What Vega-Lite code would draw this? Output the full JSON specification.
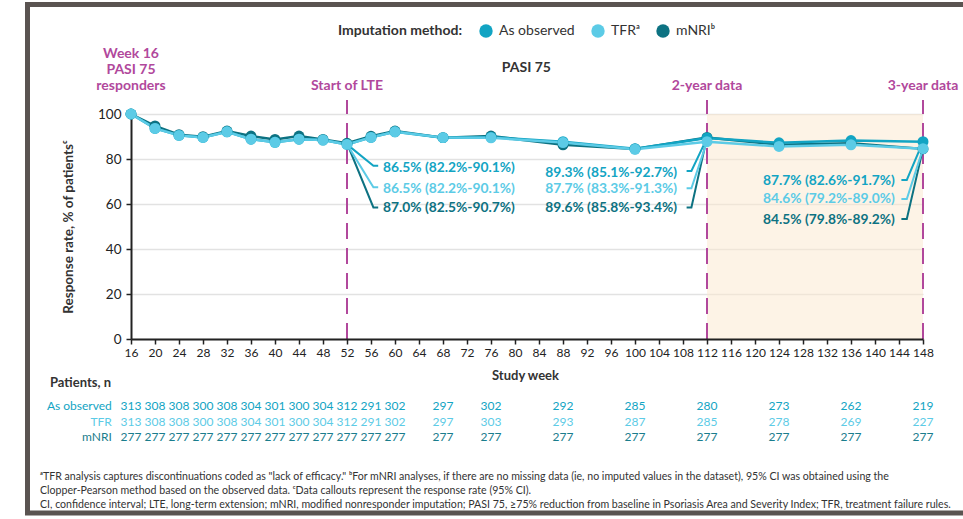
{
  "$schema": "https://vega.github.io/schema/vega-lite/v6.json",
  "width": 792,
  "height": 225,
  "autosize": {"type": "none"},
  "padding": {"left": 131, "top": 114, "right": 40, "bottom": 180},
  "background": "white",
  "config": {"font": "Lato", "view": {"stroke": null}, "text": {"font": "Lato"}},
  "resolve": {"axis": {"x": "independent", "y": "independent"}, "legend": {"color": "independent"}},
  "datasets": {
    "rates": [
      {"week": 16, "method": "mNRI", "rate": 100}, {"week": 20, "method": "mNRI", "rate": 94.7}, {"week": 24, "method": "mNRI", "rate": 90.8}, {"week": 28, "method": "mNRI", "rate": 89.9}, {"week": 32, "method": "mNRI", "rate": 92.4}, {"week": 36, "method": "mNRI", "rate": 90.2}, {"week": 40, "method": "mNRI", "rate": 88.7}, {"week": 44, "method": "mNRI", "rate": 90.2}, {"week": 48, "method": "mNRI", "rate": 88.7}, {"week": 52, "method": "mNRI", "rate": 87.0}, {"week": 56, "method": "mNRI", "rate": 90.1}, {"week": 60, "method": "mNRI", "rate": 92.4}, {"week": 68, "method": "mNRI", "rate": 89.5}, {"week": 76, "method": "mNRI", "rate": 90.2}, {"week": 88, "method": "mNRI", "rate": 86.3}, {"week": 100, "method": "mNRI", "rate": 84.5}, {"week": 112, "method": "mNRI", "rate": 89.6}, {"week": 124, "method": "mNRI", "rate": 86.3}, {"week": 136, "method": "mNRI", "rate": 87.0}, {"week": 148, "method": "mNRI", "rate": 84.5},
      {"week": 16, "method": "As observed", "rate": 100}, {"week": 20, "method": "As observed", "rate": 93.6}, {"week": 24, "method": "As observed", "rate": 90.5}, {"week": 28, "method": "As observed", "rate": 89.6}, {"week": 32, "method": "As observed", "rate": 92.1}, {"week": 36, "method": "As observed", "rate": 88.8}, {"week": 40, "method": "As observed", "rate": 87.4}, {"week": 44, "method": "As observed", "rate": 88.8}, {"week": 48, "method": "As observed", "rate": 88.4}, {"week": 52, "method": "As observed", "rate": 86.5}, {"week": 56, "method": "As observed", "rate": 89.6}, {"week": 60, "method": "As observed", "rate": 92.1}, {"week": 68, "method": "As observed", "rate": 89.5}, {"week": 76, "method": "As observed", "rate": 89.7}, {"week": 88, "method": "As observed", "rate": 87.7}, {"week": 100, "method": "As observed", "rate": 84.6}, {"week": 112, "method": "As observed", "rate": 89.3}, {"week": 124, "method": "As observed", "rate": 87.2}, {"week": 136, "method": "As observed", "rate": 88.2}, {"week": 148, "method": "As observed", "rate": 87.7},
      {"week": 16, "method": "TFR", "rate": 100}, {"week": 20, "method": "TFR", "rate": 93.6}, {"week": 24, "method": "TFR", "rate": 90.5}, {"week": 28, "method": "TFR", "rate": 89.6}, {"week": 32, "method": "TFR", "rate": 92.1}, {"week": 36, "method": "TFR", "rate": 88.8}, {"week": 40, "method": "TFR", "rate": 87.4}, {"week": 44, "method": "TFR", "rate": 88.8}, {"week": 48, "method": "TFR", "rate": 88.4}, {"week": 52, "method": "TFR", "rate": 86.5}, {"week": 56, "method": "TFR", "rate": 89.6}, {"week": 60, "method": "TFR", "rate": 92.1}, {"week": 68, "method": "TFR", "rate": 89.5}, {"week": 76, "method": "TFR", "rate": 89.4}, {"week": 88, "method": "TFR", "rate": 87.3}, {"week": 100, "method": "TFR", "rate": 84.3}, {"week": 112, "method": "TFR", "rate": 87.7}, {"week": 124, "method": "TFR", "rate": 85.6}, {"week": 136, "method": "TFR", "rate": 86.3}, {"week": 148, "method": "TFR", "rate": 84.6}
    ],
    "patients": [
      {"week": 16, "method": "As observed", "n": 313}, {"week": 20, "method": "As observed", "n": 308}, {"week": 24, "method": "As observed", "n": 308}, {"week": 28, "method": "As observed", "n": 300}, {"week": 32, "method": "As observed", "n": 308}, {"week": 36, "method": "As observed", "n": 304}, {"week": 40, "method": "As observed", "n": 301}, {"week": 44, "method": "As observed", "n": 300}, {"week": 48, "method": "As observed", "n": 304}, {"week": 52, "method": "As observed", "n": 312}, {"week": 56, "method": "As observed", "n": 291}, {"week": 60, "method": "As observed", "n": 302}, {"week": 68, "method": "As observed", "n": 297}, {"week": 76, "method": "As observed", "n": 302}, {"week": 88, "method": "As observed", "n": 292}, {"week": 100, "method": "As observed", "n": 285}, {"week": 112, "method": "As observed", "n": 280}, {"week": 124, "method": "As observed", "n": 273}, {"week": 136, "method": "As observed", "n": 262}, {"week": 148, "method": "As observed", "n": 219},
      {"week": 16, "method": "TFR", "n": 313}, {"week": 20, "method": "TFR", "n": 308}, {"week": 24, "method": "TFR", "n": 308}, {"week": 28, "method": "TFR", "n": 300}, {"week": 32, "method": "TFR", "n": 308}, {"week": 36, "method": "TFR", "n": 304}, {"week": 40, "method": "TFR", "n": 301}, {"week": 44, "method": "TFR", "n": 300}, {"week": 48, "method": "TFR", "n": 304}, {"week": 52, "method": "TFR", "n": 312}, {"week": 56, "method": "TFR", "n": 291}, {"week": 60, "method": "TFR", "n": 302}, {"week": 68, "method": "TFR", "n": 297}, {"week": 76, "method": "TFR", "n": 303}, {"week": 88, "method": "TFR", "n": 293}, {"week": 100, "method": "TFR", "n": 287}, {"week": 112, "method": "TFR", "n": 285}, {"week": 124, "method": "TFR", "n": 278}, {"week": 136, "method": "TFR", "n": 269}, {"week": 148, "method": "TFR", "n": 227},
      {"week": 16, "method": "mNRI", "n": 277}, {"week": 20, "method": "mNRI", "n": 277}, {"week": 24, "method": "mNRI", "n": 277}, {"week": 28, "method": "mNRI", "n": 277}, {"week": 32, "method": "mNRI", "n": 277}, {"week": 36, "method": "mNRI", "n": 277}, {"week": 40, "method": "mNRI", "n": 277}, {"week": 44, "method": "mNRI", "n": 277}, {"week": 48, "method": "mNRI", "n": 277}, {"week": 52, "method": "mNRI", "n": 277}, {"week": 56, "method": "mNRI", "n": 277}, {"week": 60, "method": "mNRI", "n": 277}, {"week": 68, "method": "mNRI", "n": 277}, {"week": 76, "method": "mNRI", "n": 277}, {"week": 88, "method": "mNRI", "n": 277}, {"week": 100, "method": "mNRI", "n": 277}, {"week": 112, "method": "mNRI", "n": 277}, {"week": 124, "method": "mNRI", "n": 277}, {"week": 136, "method": "mNRI", "n": 277}, {"week": 148, "method": "mNRI", "n": 277}
    ],
    "callouts": [
      {"group": 52, "method": "As observed", "week": 58.0, "rate": 76.0, "label": "86.5% (82.2%-90.1%)"},
      {"group": 52, "method": "TFR", "week": 58.0, "rate": 66.7, "label": "86.5% (82.2%-90.1%)"},
      {"group": 52, "method": "mNRI", "week": 58.0, "rate": 58.4, "label": "87.0% (82.5%-90.7%)"},
      {"group": 112, "method": "As observed", "week": 107.0, "rate": 73.8, "label": "89.3% (85.1%-92.7%)"},
      {"group": 112, "method": "TFR", "week": 107.0, "rate": 66.5, "label": "87.7% (83.3%-91.3%)"},
      {"group": 112, "method": "mNRI", "week": 107.0, "rate": 58.4, "label": "89.6% (85.8%-93.4%)"},
      {"group": 148, "method": "As observed", "week": 143.3, "rate": 70.2, "label": "87.7% (82.6%-91.7%)"},
      {"group": 148, "method": "TFR", "week": 143.3, "rate": 62.2, "label": "84.6% (79.2%-89.0%)"},
      {"group": 148, "method": "mNRI", "week": 143.3, "rate": 52.9, "label": "84.5% (79.8%-89.2%)"}
    ],
    "leaders": [
      {"group": 52, "method": "mNRI", "step": 1, "week": 52, "rate": 87.0}, {"group": 52, "method": "mNRI", "step": 2, "week": 56.4, "rate": 58.5}, {"group": 52, "method": "mNRI", "step": 3, "week": 57.2, "rate": 58.5},
      {"group": 52, "method": "As observed", "step": 1, "week": 52, "rate": 86.5}, {"group": 52, "method": "As observed", "step": 2, "week": 56.4, "rate": 77.0}, {"group": 52, "method": "As observed", "step": 3, "week": 57.2, "rate": 77.0},
      {"group": 52, "method": "TFR", "step": 1, "week": 52, "rate": 86.5}, {"group": 52, "method": "TFR", "step": 2, "week": 56.4, "rate": 67.4}, {"group": 52, "method": "TFR", "step": 3, "week": 57.2, "rate": 67.4},
      {"group": 112, "method": "mNRI", "step": 1, "week": 112, "rate": 89.6}, {"group": 112, "method": "mNRI", "step": 2, "week": 109.4, "rate": 58.5}, {"group": 112, "method": "mNRI", "step": 3, "week": 108.6, "rate": 58.5},
      {"group": 112, "method": "As observed", "step": 1, "week": 112, "rate": 89.3}, {"group": 112, "method": "As observed", "step": 2, "week": 109.4, "rate": 74.7}, {"group": 112, "method": "As observed", "step": 3, "week": 108.6, "rate": 74.7},
      {"group": 112, "method": "TFR", "step": 1, "week": 112, "rate": 87.7}, {"group": 112, "method": "TFR", "step": 2, "week": 109.4, "rate": 67.0}, {"group": 112, "method": "TFR", "step": 3, "week": 108.6, "rate": 67.0},
      {"group": 148, "method": "mNRI", "step": 1, "week": 148, "rate": 84.5}, {"group": 148, "method": "mNRI", "step": 2, "week": 145.3, "rate": 53.3}, {"group": 148, "method": "mNRI", "step": 3, "week": 144.4, "rate": 53.3},
      {"group": 148, "method": "As observed", "step": 1, "week": 148, "rate": 87.7}, {"group": 148, "method": "As observed", "step": 2, "week": 145.3, "rate": 70.7}, {"group": 148, "method": "As observed", "step": 3, "week": 144.4, "rate": 70.7},
      {"group": 148, "method": "TFR", "step": 1, "week": 148, "rate": 84.6}, {"group": 148, "method": "TFR", "step": 2, "week": 145.3, "rate": 62.2}, {"group": 148, "method": "TFR", "step": 3, "week": 144.4, "rate": 62.2}
    ],
    "milestones": [
      {"week": 52, "label": "Start of LTE"},
      {"week": 112, "label": "2-year data"},
      {"week": 148, "label": "3-year data"}
    ]
  },
  "layer": [
    {
      "data": {"values": [{}]},
      "mark": {"type": "rect", "fill": "transparent", "stroke": "#5a5451", "strokeWidth": 5},
      "encoding": {
        "x": {"datum": -1.25, "type": "quantitative", "axis": null},
        "x2": {"datum": 156},
        "y": {"datum": 148.7, "type": "quantitative", "axis": null},
        "y2": {"datum": -77.3}
      }
    },
    {
      "data": {"values": [{}]},
      "mark": {"type": "rect", "fill": "#fbe7cd", "opacity": 0.5},
      "encoding": {
        "x": {"datum": 112, "type": "quantitative", "axis": null},
        "x2": {"datum": 148},
        "y": {"datum": 0, "type": "quantitative", "axis": null},
        "y2": {"datum": 100}
      }
    },
    {
      "data": {"name": "milestones"},
      "mark": {"type": "rule", "color": "#b1489c", "strokeWidth": 2, "strokeDash": [16, 9]},
      "encoding": {
        "x": {"field": "week", "type": "quantitative", "axis": null},
        "y": {"datum": 0, "type": "quantitative", "axis": null},
        "y2": {"datum": 106.2}
      }
    },
    {
      "data": {"name": "leaders"},
      "mark": {"type": "line", "strokeWidth": 2},
      "encoding": {
        "x": {"field": "week", "type": "quantitative", "axis": null},
        "y": {"field": "rate", "type": "quantitative", "axis": null},
        "detail": {"field": "group", "type": "nominal"},
        "order": {"field": "step", "type": "quantitative"},
        "color": {"field": "method", "type": "nominal", "scale": {"domain": ["As observed", "TFR", "mNRI"], "range": ["#12a4c3", "#5ccbe6", "#0d7282"]}, "legend": null}
      }
    },
    {
      "data": {"name": "rates"},
      "mark": {"type": "line", "strokeWidth": 2.5},
      "encoding": {
        "x": {
          "field": "week", "type": "quantitative",
          "scale": {"domain": [16, 148], "nice": false, "zero": false},
          "axis": {
            "values": [16, 20, 24, 28, 32, 36, 40, 44, 48, 52, 56, 60, 64, 68, 72, 76, 80, 84, 88, 92, 96, 100, 104, 108, 112, 116, 120, 124, 128, 132, 136, 140, 144, 148],
            "title": "Study week", "titleFont": "Lato", "titleFontSize": 13, "titleFontWeight": "bold", "titleColor": "#333333",
            "titleX": 394, "titleY": 36, "titleAlign": "center", "titleBaseline": "middle",
            "labelFont": "Lato", "labelFontSize": 12, "labelColor": "#222222", "labelOverlap": false, "labelFlush": false, "labelPadding": 3,
            "tickSize": 5, "tickColor": "#222222", "tickWidth": 1.5, "domainColor": "#222222", "domainWidth": 2, "grid": false, "zindex": 1
          }
        },
        "y": {
          "field": "rate", "type": "quantitative",
          "scale": {"domain": [0, 100], "nice": false, "zero": true},
          "axis": {
            "values": [0, 20, 40, 60, 80, 100],
            "title": "Response rate, % of patientsᶜ", "titleFont": "Lato", "titleFontSize": 13.5, "titleFontWeight": "bold", "titleColor": "#333333",
            "titleX": -63, "titleY": 112.5, "titleAngle": -90, "titleAlign": "center", "titleBaseline": "middle",
            "labelFont": "Lato", "labelFontSize": 13.5, "labelColor": "#222222", "labelPadding": 5,
            "tickSize": 5, "tickColor": "#222222", "tickWidth": 1.5, "domainColor": "#222222", "domainWidth": 2,
            "grid": true, "gridColor": "#e2e2e2", "gridWidth": 1.5
          }
        },
        "color": {"field": "method", "type": "nominal", "scale": {"domain": ["As observed", "TFR", "mNRI"], "range": ["#12a4c3", "#5ccbe6", "#0d7282"]}, "legend": null}
      }
    },
    {
      "data": {"name": "rates"},
      "mark": {"type": "circle", "size": 120, "opacity": 1},
      "encoding": {
        "x": {"field": "week", "type": "quantitative", "axis": null},
        "y": {"field": "rate", "type": "quantitative", "axis": null},
        "color": {
          "field": "method", "type": "nominal",
          "scale": {"domain": ["As observed", "TFR", "mNRI"], "range": ["#12a4c3", "#5ccbe6", "#0d7282"]},
          "legend": {
            "orient": "none", "legendX": 207, "legendY": -90, "direction": "horizontal",
            "title": "Imputation method:", "titleOrient": "left", "titleFont": "Lato", "titleFontSize": 14, "titleFontWeight": "bold", "titleColor": "#333333", "titlePadding": 16,
            "labelFont": "Lato", "labelFontSize": 14, "labelColor": "#333333", "labelOffset": 6,
            "symbolType": "circle", "symbolSize": 180, "symbolStrokeWidth": 0, "columnPadding": 16,
            "labelExpr": "datum.label === 'TFR' ? 'TFRᵃ' : (datum.label === 'mNRI' ? 'mNRIᵇ' : datum.label)"
          }
        }
      }
    },
    {
      "data": {"name": "callouts"},
      "transform": [{"filter": "datum.group == 52"}],
      "mark": {"type": "text", "align": "left", "baseline": "middle", "fontSize": 13.8, "fontWeight": "bold"},
      "encoding": {
        "x": {"field": "week", "type": "quantitative", "axis": null},
        "y": {"field": "rate", "type": "quantitative", "axis": null},
        "text": {"field": "label"},
        "color": {"field": "method", "type": "nominal", "scale": {"domain": ["As observed", "TFR", "mNRI"], "range": ["#12a4c3", "#5ccbe6", "#0d7282"]}, "legend": null}
      }
    },
    {
      "data": {"name": "callouts"},
      "transform": [{"filter": "datum.group != 52"}],
      "mark": {"type": "text", "align": "right", "baseline": "middle", "fontSize": 13.8, "fontWeight": "bold"},
      "encoding": {
        "x": {"field": "week", "type": "quantitative", "axis": null},
        "y": {"field": "rate", "type": "quantitative", "axis": null},
        "text": {"field": "label"},
        "color": {"field": "method", "type": "nominal", "scale": {"domain": ["As observed", "TFR", "mNRI"], "range": ["#12a4c3", "#5ccbe6", "#0d7282"]}, "legend": null}
      }
    },
    {
      "data": {"name": "milestones"},
      "mark": {"type": "text", "align": "center", "baseline": "bottom", "fontSize": 14, "fontWeight": "bold", "color": "#b1489c"},
      "encoding": {
        "x": {"field": "week", "type": "quantitative", "axis": null},
        "y": {"datum": 109.3, "type": "quantitative", "axis": null},
        "text": {"field": "label"}
      }
    },
    {
      "data": {"values": [{"week": 16, "label": "Week 16\nPASI 75\nresponders"}]},
      "mark": {"type": "text", "align": "center", "baseline": "bottom", "fontSize": 14, "fontWeight": "bold", "color": "#b1489c", "lineBreak": "\n", "lineHeight": 16.2},
      "encoding": {
        "x": {"field": "week", "type": "quantitative", "axis": null},
        "y": {"datum": 123.7, "type": "quantitative", "axis": null},
        "text": {"field": "label"}
      }
    },
    {
      "data": {"values": [{}]},
      "mark": {"type": "text", "text": "PASI 75", "align": "center", "baseline": "middle", "fontSize": 14, "fontWeight": "bold", "color": "#333333"},
      "encoding": {
        "x": {"datum": 81.9, "type": "quantitative", "axis": null},
        "y": {"datum": 120.3, "type": "quantitative", "axis": null}
      }
    },
    {
      "data": {"values": [{}]},
      "mark": {"type": "text", "text": "Patients, n", "align": "left", "baseline": "middle", "fontSize": 13, "fontWeight": "bold", "color": "#333333"},
      "encoding": {
        "x": {"datum": 2.5, "type": "quantitative", "axis": null},
        "y": {"datum": -19.6, "type": "quantitative", "axis": null}
      }
    },
    {
      "data": {"values": [{}]},
      "mark": {"type": "text", "text": "As observed", "align": "right", "baseline": "middle", "fontSize": 12, "color": "#12a4c3"},
      "encoding": {
        "x": {"datum": 12.8, "type": "quantitative", "axis": null},
        "y": {"datum": -29.8, "type": "quantitative", "axis": null}
      }
    },
    {
      "data": {"values": [{}]},
      "mark": {"type": "text", "text": "TFR", "align": "right", "baseline": "middle", "fontSize": 12, "color": "#5ccbe6"},
      "encoding": {
        "x": {"datum": 12.8, "type": "quantitative", "axis": null},
        "y": {"datum": -36.9, "type": "quantitative", "axis": null}
      }
    },
    {
      "data": {"values": [{}]},
      "mark": {"type": "text", "text": "mNRI", "align": "right", "baseline": "middle", "fontSize": 12, "color": "#1a7d8d"},
      "encoding": {
        "x": {"datum": 12.8, "type": "quantitative", "axis": null},
        "y": {"datum": -43.6, "type": "quantitative", "axis": null}
      }
    },
    {
      "data": {"name": "patients"},
      "transform": [{"filter": "datum.method == 'As observed'"}],
      "mark": {"type": "text", "align": "center", "baseline": "middle", "fontSize": 12, "color": "#12a4c3"},
      "encoding": {
        "x": {"field": "week", "type": "quantitative", "axis": null},
        "y": {"datum": -29.8, "type": "quantitative", "axis": null},
        "text": {"field": "n"}
      }
    },
    {
      "data": {"name": "patients"},
      "transform": [{"filter": "datum.method == 'TFR'"}],
      "mark": {"type": "text", "align": "center", "baseline": "middle", "fontSize": 12, "color": "#5ccbe6"},
      "encoding": {
        "x": {"field": "week", "type": "quantitative", "axis": null},
        "y": {"datum": -36.9, "type": "quantitative", "axis": null},
        "text": {"field": "n"}
      }
    },
    {
      "data": {"name": "patients"},
      "transform": [{"filter": "datum.method == 'mNRI'"}],
      "mark": {"type": "text", "align": "center", "baseline": "middle", "fontSize": 12, "color": "#1a7d8d"},
      "encoding": {
        "x": {"field": "week", "type": "quantitative", "axis": null},
        "y": {"datum": -43.6, "type": "quantitative", "axis": null},
        "text": {"field": "n"}
      }
    },
    {
      "data": {"values": [{"note": "ᵃTFR analysis captures discontinuations coded as \"lack of efficacy.\" ᵇFor mNRI analyses, if there are no missing data (ie, no imputed values in the dataset), 95% CI was obtained using the\nClopper-Pearson method based on the observed data. ᶜData callouts represent the response rate (95% CI).\nCI, confidence interval; LTE, long-term extension; mNRI, modified nonresponder imputation; PASI 75, ≥75% reduction from baseline in Psoriasis Area and Severity Index; TFR, treatment failure rules."}]},
      "mark": {"type": "text", "align": "left", "baseline": "top", "fontSize": 10.6, "color": "#333333", "lineBreak": "\n", "lineHeight": 14},
      "encoding": {
        "x": {"datum": 0.83, "type": "quantitative", "axis": null},
        "y": {"datum": -59.1, "type": "quantitative", "axis": null},
        "text": {"field": "note"}
      }
    }
  ]
}
